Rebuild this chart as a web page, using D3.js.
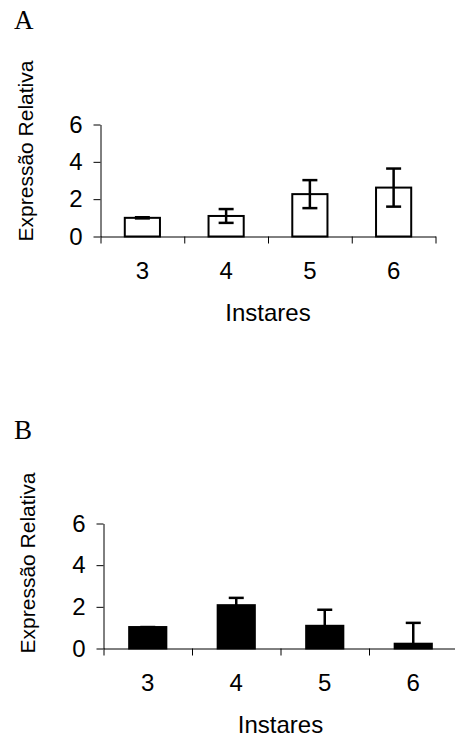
<!DOCTYPE html>
<html>
<head>
<meta charset="utf-8">
<script src="https://cdn.jsdelivr.net/npm/d3@7"></script>
<style>
  body { margin: 0; background: #fff; }
  svg { display: block; }
  text { font-family: "Liberation Sans", Arial, sans-serif; fill: #000; }
</style>
</head>
<body>
<div id="chart"></div>
<script>
// data
var instares = ["3", "4", "5", "6"];
var yTicks = [0, 2, 4, 6];
var valuesA = [1.0, 1.1, 2.27, 2.62];
var errorsA = [0.03, 0.37, 0.75, 1.02];
var valuesB = [1.03, 2.08, 1.09, 0.23];
var errorsB = [0, 0.35, 0.77, 1.0];

var svg = d3.select("#chart")
  .append("svg")
  .attr("width", 455)
  .attr("height", 738);

// one panel: letter, axes, bars, error bars
var drawPanel = function (opt) {
  var g = svg.append("g");

  g.append("text")
    .attr("x", 14)
    .attr("y", opt.letterY)
    .style("font-family", "'Liberation Serif', 'Times New Roman', serif")
    .style("font-size", "27px")
    .text(opt.letter);

  var x = d3.scaleBand()
    .domain(instares)
    .range([opt.left, opt.right])
    .padding(0);

  var xEdge = d3.scaleLinear()
    .domain([0, instares.length])
    .range([opt.left, opt.right]);

  var y = d3.scaleLinear()
    .domain([0, 6])
    .range([opt.bottom, opt.top]);

  // y axis
  var yAxis = g.append("g")
    .attr("transform", "translate(" + opt.left + ",0)")
    .call(d3.axisLeft(y).tickValues(yTicks).tickFormat(d3.format("d"))
      .tickSize(7).tickSizeOuter(0).tickPadding(11));
  yAxis.selectAll("text").style("font-size", "24px").attr("font-family", null);
  yAxis.selectAll("line, path").attr("stroke", "#000").attr("stroke-width", 1);

  // x axis, ticks on category boundaries
  var xAxis = g.append("g")
    .attr("transform", "translate(0," + opt.bottom + ")")
    .call(d3.axisBottom(xEdge).ticks(4).tickSize(7).tickSizeOuter(0).tickFormat(""));
  xAxis.selectAll("line, path").attr("stroke", "#000").attr("stroke-width", 1);

  g.selectAll(".xlab")
    .data(instares)
    .enter()
    .append("text")
      .attr("x", function (d) { return x(d) + x.bandwidth() / 2; })
      .attr("y", opt.bottom + 42)
      .attr("text-anchor", "middle")
      .style("font-size", "24px")
      .text(function (d) { return d; });

  g.append("text")
    .attr("x", (opt.left + opt.right) / 2)
    .attr("y", opt.bottom + 84)
    .attr("text-anchor", "middle")
    .style("font-size", "24px")
    .text("Instares");

  g.append("text")
    .attr("transform", "translate(" + opt.titleX + "," + opt.titleY + ") rotate(-90)")
    .attr("text-anchor", "middle")
    .style("font-size", "21px")
    .text("Expressão Relativa");

  var barW = x.bandwidth() * 0.42;

  g.selectAll(".bar")
    .data(opt.values)
    .enter()
    .append("rect")
      .attr("x", function (d, i) { return x(instares[i]) + (x.bandwidth() - barW) / 2; })
      .attr("y", function (d) { return y(d); })
      .attr("width", barW)
      .attr("height", function (d) { return y(0) - y(d); })
      .attr("fill", opt.fill)
      .attr("stroke", "#000")
      .attr("stroke-width", 2);

  var cx = function (i) { return x(instares[i]) + x.bandwidth() / 2; };
  var lo = function (i) { return opt.plusOnly ? opt.values[i] : opt.values[i] - opt.errors[i]; };
  var hi = function (i) { return opt.values[i] + opt.errors[i]; };

  var err = g.selectAll(".err")
    .data(opt.errors)
    .enter()
    .append("g")
    .attr("stroke", "#000")
    .attr("stroke-width", 2.5);

  err.append("line")
    .attr("x1", function (d, i) { return cx(i); })
    .attr("x2", function (d, i) { return cx(i); })
    .attr("y1", function (d, i) { return y(lo(i)); })
    .attr("y2", function (d, i) { return y(hi(i)); });

  err.append("line")
    .attr("x1", function (d, i) { return cx(i) - 7.5; })
    .attr("x2", function (d, i) { return cx(i) + 7.5; })
    .attr("y1", function (d, i) { return y(hi(i)); })
    .attr("y2", function (d, i) { return y(hi(i)); });

  if (!opt.plusOnly) {
    err.append("line")
      .attr("x1", function (d, i) { return cx(i) - 7.5; })
      .attr("x2", function (d, i) { return cx(i) + 7.5; })
      .attr("y1", function (d, i) { return y(lo(i)); })
      .attr("y2", function (d, i) { return y(lo(i)); });
  }
};

drawPanel({
  letter: "A", letterY: 29,
  left: 100.5, right: 435.5, top: 124.5, bottom: 236.5,
  titleX: 33, titleY: 151,
  values: valuesA, errors: errorsA,
  fill: "#fff", plusOnly: false
});

drawPanel({
  letter: "B", letterY: 439,
  left: 103.5, right: 457.5, top: 523.5, bottom: 648.5,
  titleX: 35, titleY: 563,
  values: valuesB, errors: errorsB,
  fill: "#000", plusOnly: true
});
</script>
</body>
</html>
